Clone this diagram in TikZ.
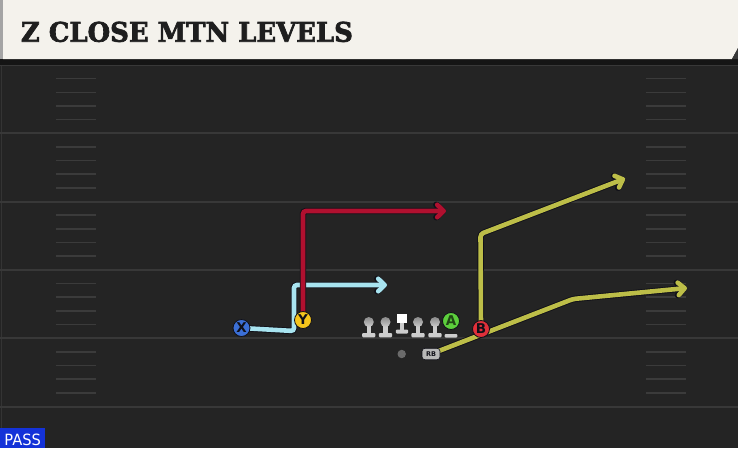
\documentclass[tikz,border=0pt]{standalone}
\usepackage{fontspec}
\usepackage{graphicx}
\usetikzlibrary{arrows.meta}
\newfontfamily\titlefont{DejaVu Serif}[BoldFeatures={FakeBold=2.5}]
\newfontfamily\passfont{DejaVu Sans}
\newfontfamily\letterfont{DejaVu Sans}
\definecolor{fieldbg}{HTML}{242424}
\definecolor{fieldline}{HTML}{383838}
\definecolor{hashc}{HTML}{3b3b3b}
\definecolor{hdr}{HTML}{F4F2EC}
\definecolor{hdrgrey}{HTML}{A4A4A4}
\definecolor{hdrdark}{HTML}{151515}
\definecolor{titlec}{HTML}{1E1E1E}
\definecolor{passblue}{HTML}{1432D8}
\definecolor{xblue}{HTML}{3B6FD6}
\definecolor{yyellow}{HTML}{F5C51C}
\definecolor{agreen}{HTML}{5CCF3C}
\definecolor{bred}{HTML}{E0303A}
\definecolor{cyanroute}{HTML}{A8E4F0}
\definecolor{redroute}{HTML}{B0102F}
\definecolor{oliveroute}{HTML}{BDBE48}
\definecolor{outl}{HTML}{101018}
\definecolor{lmbody}{HTML}{CDCDCD}
\definecolor{lmtop}{HTML}{8A8A8A}
\definecolor{qbgrey}{HTML}{6B6B6B}
\definecolor{rbgrey}{HTML}{B8B8B8}
\tikzset{
  fline/.style={draw=fieldline, line width=2pt},
  hashmark/.style={draw=hashc, line width=1.6pt},
  routeout/.style={draw=outl, line width=6.4pt, rounded corners=3pt,
    -{Straight Barb[length=6.5pt,width=12.5pt,line cap=round,line join=round]}},
  routein/.style={draw=#1, line width=4.6pt, rounded corners=3pt,
    -{Straight Barb[length=6.5pt,width=12.5pt,line cap=round,line join=round]}},
  player/.style={circle, minimum size=17pt, inner sep=0pt, draw=outl,
    line width=0.8pt, font=\letterfont\bfseries\fontsize{13.5}{13.5}\selectfont},
  lman/.pic={
    \fill[lmbody, rounded corners=1pt] (-6.6,11) rectangle (6.6,15.3);
    \fill[lmbody] (-2.2,3) rectangle (2.2,12);
    \shade[top color=lmtop, bottom color=lmbody] (0,0) circle (5);
  },
  cman/.pic={
    \fill[lmbody, rounded corners=1pt] (-6.2,7.5) rectangle (6.2,11.5);
    \fill[lmbody] (-2.2,0) rectangle (2.2,8);
    \fill[white] (-5.3,-7.9) rectangle (5.3,1.3);
  }
}
\begin{document}
\begin{tikzpicture}[x=1pt,y=-1pt]
\useasboundingbox (0,0) rectangle (738,448);
% field
\fill[fieldbg] (0,0) rectangle (738,448);
\draw[draw=hashc!70!fieldbg, line width=1pt] (1.2,65) -- (1.2,448);
\foreach \L in {65,133.3,201.6,269.9,338.2}{
  \foreach \j in {1,2,3,4}{
    \draw[hashmark] (56,\L+13.66*\j) -- (96,\L+13.66*\j);
    \draw[hashmark] (646,\L+13.66*\j) -- (686,\L+13.66*\j);
  }
}
\draw[fline, line width=1.4pt] (0,65.5) -- (738,65.5);
\foreach \L in {133.3,201.6,269.9,338.2,406.5}{
  \draw[fline] (0,\L) -- (738,\L);
}
% header
\fill[hdrdark] (0,59) rectangle (738,64.5);
\fill[hdr] (3,0) -- (738,0) -- (738,48) -- (732,59) -- (3,59) -- cycle;
\fill[hdrgrey] (0,0) rectangle (3,59);
\fill[fieldline] (738,48) -- (738,59) -- (732,59) -- cycle;
\node[anchor=base west, inner sep=0pt, text=titlec] (title) at (20.7,41.7)
  {\resizebox{332pt}{20pt}{\titlefont\bfseries Z CLOSE MTN LEVELS}};
% pass badge
\fill[passblue] (0,427.5) rectangle (45,448);
\node[anchor=base west, inner sep=0pt, text=white] (pass) at (4.2,445)
  {\resizebox{36.5pt}{11.5pt}{\passfont PASS}};
% player positions
\coordinate (Xp) at (241.5,328);
\coordinate (Yp) at (303,320);
\coordinate (Ap) at (451,321);
\coordinate (Bp) at (481,329);
\coordinate (RBp) at (431,354);
% route waypoints
\coordinate (x1) at (294,331);
\coordinate (x2) at (294,285);
\coordinate (x3) at (387,285);
\coordinate (y1) at (303,211);
\coordinate (y2) at (446,211);
\coordinate (b1) at (480.5,234);
\coordinate (b2) at (625,178.5);
\coordinate (r1) at (573,299);
\coordinate (r2) at (687,288);
% routes
\draw[routeout] (Xp) -- (x1) -- (x2) -- (x3);
\draw[routein=cyanroute] (Xp) -- (x1) -- (x2) -- (x3);
\draw[routeout] (Yp) -- (y1) -- (y2);
\draw[routein=redroute] (Yp) -- (y1) -- (y2);
\draw[routeout] (RBp) -- (r1) -- (r2);
\draw[routein=oliveroute] (RBp) -- (r1) -- (r2);
\draw[routeout] (Bp) -- (b1) -- (b2);
\draw[routein=oliveroute] (Bp) -- (b1) -- (b2);
% linemen
\pic (lt) at (368.8,322) {lman};
\pic (lg) at (385.5,322) {lman};
\pic (c) at (402,322) {cman};
\pic (rg) at (418,322) {lman};
\pic (rt) at (435,322) {lman};
\fill[lmbody, rounded corners=1pt] (444.6,334) rectangle (457.4,337.5);
% backs
\fill[qbgrey] (401.7,354) circle (4.2);
\node[draw=outl, line width=0.6pt, fill=rbgrey, rounded corners=3pt,
  minimum width=18pt, minimum height=11.5pt, inner sep=0pt,
  font=\letterfont\bfseries\fontsize{6.5}{6.5}\selectfont, text=outl] (RB) at (RBp) {RB};
% players
\node[player, fill=xblue, text=outl] (X) at (Xp) {X};
\node[player, fill=yyellow, text=outl] (Y) at (Yp) {Y};
\node[player, fill=agreen, text=agreen!35!black] (A) at (Ap) {A};
\node[player, fill=bred, text=outl] (B) at (Bp) {B};
\end{tikzpicture}
\end{document}
